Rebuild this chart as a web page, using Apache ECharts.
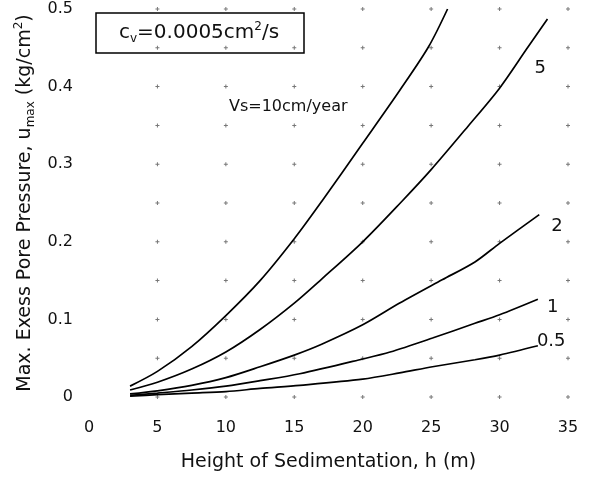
<!DOCTYPE html>
<html>
<head>
<meta charset="utf-8">
<script src="https://cdn.jsdelivr.net/npm/echarts@6/dist/echarts.min.js"></script>
<style>
  html, body { margin: 0; padding: 0; background: #fff; }
  #chart { width: 592px; height: 477px; }
</style>
</head>
<body>
<div id="chart"></div>
<script>
// height of sedimentation h (m) vs max excess pore pressure (kg/cm2), one array per Vs
const vs10 = [[3, 0.014], [5, 0.033], [7.5, 0.065], [10, 0.105], [12.5, 0.150], [15, 0.204], [17, 0.252], [20, 0.327], [22.7, 0.395], [24.8, 0.451], [26.2, 0.5]];
const vs5 = [[3, 0.009], [5, 0.019], [7.5, 0.036], [10, 0.058], [12.5, 0.087], [15, 0.121], [17, 0.152], [20, 0.2], [22.8, 0.251], [25, 0.293], [27.7, 0.349], [30, 0.398], [32, 0.449], [33.5, 0.487]];
const vs2 = [[3, 0.004], [5, 0.008], [7.5, 0.015], [10, 0.025], [12.5, 0.039], [15, 0.054], [17, 0.068], [20, 0.093], [22.7, 0.121], [25.8, 0.151], [28.2, 0.174], [30, 0.198], [32.9, 0.235]];
const vs1 = [[3, 0.002], [5, 0.005], [7.5, 0.009], [10, 0.014], [12.5, 0.021], [15.4, 0.030], [20, 0.049], [22, 0.058], [25.1, 0.076], [28.2, 0.095], [30, 0.106], [32.8, 0.126]];
const vs05 = [[3, 0.001], [5, 0.003], [7.5, 0.005], [10, 0.007], [12.5, 0.011], [15.4, 0.015], [20, 0.023], [22.7, 0.031], [25.1, 0.039], [28.2, 0.048], [30, 0.054], [32.8, 0.066]];

// dotted grid: crosses at every tick crossing
const gridX = [5, 10, 15, 20, 25, 30, 35];
const gridY = [0, 0.05, 0.1, 0.15, 0.2, 0.25, 0.3, 0.35, 0.4, 0.45, 0.5];

const font = "DejaVu Sans";
const gridPts = [];
gridX.forEach((x) => gridY.forEach((y) => gridPts.push([x, y])));

function curve(name, data, offset) {
  return {
    name: name,
    type: "line",
    data: data,
    showSymbol: false,
    smooth: 0.3,
    lineStyle: { color: "#000", width: 1.7 },
    endLabel: {
      show: !!offset,
      formatter: name,
      distance: 0,
      offset: offset || [0, 0],
      color: "#111",
      fontFamily: font,
      fontSize: 18,
    },
    z: 3,
  };
}

const rich = (size) => ({
  t: { fontFamily: font, fontSize: size, fontWeight: "normal", color: "#111", lineHeight: 24 },
  sub: { fontFamily: font, fontSize: 12, fontWeight: "normal", color: "#111", lineHeight: 24, verticalAlign: "bottom", padding: [8, 0, 0, 0] },
  sup: { fontFamily: font, fontSize: 12, fontWeight: "normal", color: "#111", lineHeight: 24, verticalAlign: "top", padding: [0, 0, 8, 0] },
});

const chart = echarts.init(document.getElementById("chart"));
chart.setOption({
  animation: false,
  backgroundColor: "#fff",
  textStyle: { fontFamily: font },
  title: [
    {
      text: "{t|c}{sub|v}{t|=0.0005cm}{sup|2}{t|/s}",
      left: 96,
      top: 13,
      padding: [8, 25, 8, 23],
      borderColor: "#000",
      borderWidth: 1.5,
      textStyle: { fontWeight: "normal", rich: rich(20) },
    },
    {
      text: "Vs=10cm/year",
      left: 229,
      top: 99,
      padding: 0,
      textStyle: { fontFamily: font, fontSize: 16, fontWeight: "normal", color: "#111" },
    },
  ],
  grid: { left: 89, right: 24, top: 9, bottom: 80 },
  xAxis: {
    type: "value",
    min: 0,
    max: 35,
    interval: 5,
    name: "Height of Sedimentation, h (m)",
    nameLocation: "middle",
    nameGap: 56,
    nameTextStyle: { fontFamily: font, fontSize: 19, color: "#111" },
    axisLine: { show: false },
    axisTick: { show: false },
    splitLine: { show: false },
    axisLabel: { margin: 23, fontFamily: font, fontSize: 16, color: "#111" },
  },
  yAxis: {
    type: "value",
    min: 0,
    max: 0.5,
    interval: 0.1,
    name: "{t|Max. Exess Pore Pressure, u}{sub|max}{t| (kg/cm}{sup|2}{t|)}",
    nameLocation: "middle",
    nameGap: 46,
    nameTextStyle: { rich: rich(19) },
    axisLine: { show: false },
    axisTick: { show: false },
    splitLine: { show: false },
    axisLabel: { margin: 16, fontFamily: font, fontSize: 16, color: "#111" },
  },
  series: [
    {
      type: "scatter",
      data: gridPts,
      symbol: "path://M1.5,0h1v1.5h1.5v1h-1.5v1.5h-1v-1.5h-1.5v-1h1.5z",
      symbolSize: 4,
      itemStyle: { color: "#555" },
      clip: false,
      silent: true,
      z: 1,
    },
    curve("10", vs10, null),
    curve("5", vs5, [-13, 49]),
    curve("2", vs2, [12, 12]),
    curve("1", vs1, [9, 8]),
    curve("0.5", vs05, [-1, -4]),
  ],
});
</script>
</body>
</html>
